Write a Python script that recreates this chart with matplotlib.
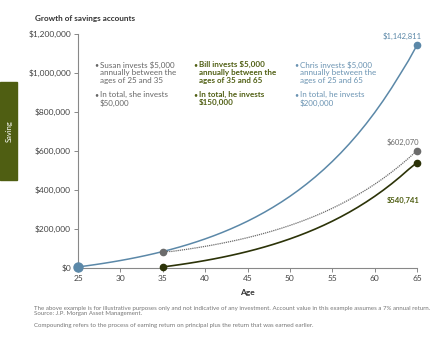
import matplotlib.pyplot as plt
import matplotlib.patches as patches
from matplotlib.ticker import FuncFormatter

plt.rcParams['font.family'] = ['Lato', 'DejaVu Sans']

# account value by age (7% annual return)
chris_age = list(range(25, 66))
chris_val = [5350, 11075, 17200, 23754, 30767, 38271, 46300, 54891, 64083, 73919,
             84443, 95704, 107753, 120646, 134441, 149202, 164996, 181896, 199979, 219328,
             240031, 262183, 285886, 311248, 338385, 367422, 398492, 431736, 467308, 505370,
             546096, 589673, 636300, 686191, 739574, 796694, 857813, 923210, 993185, 1064000,
             1142811]

susan_age = list(range(35, 66))
susan_val = [84443, 84630, 90554, 96893, 103675, 110932, 118697, 127006, 135896, 145409,
             155588, 166479, 178133, 190602, 203944, 218220, 233495, 249840, 267329, 286042,
             306065, 327490, 350414, 374943, 401189, 429272, 459321, 491474, 525877, 562688,
             602070]

bill_age = list(range(35, 66))
bill_val = [5350, 11075, 17200, 23754, 30767, 38271, 46300, 54891, 64083, 73919,
            84443, 95704, 107753, 120646, 134441, 149202, 164996, 181896, 199979, 219328,
            240031, 262183, 285886, 311248, 338385, 367422, 398492, 431736, 467308, 505370,
            540741]

x_ticks = [25, 30, 35, 40, 45, 50, 55, 60, 65]
y_ticks = [0, 200000, 400000, 600000, 800000, 1000000, 1200000]

blue = '#5b88a8'
grey = '#6b6b6b'
olive = '#2c3308'
olive_txt = '#4f5e12'
txt = '#444444'

fig = plt.figure(figsize=(4.32, 3.4), dpi=100)
ax = fig.add_axes([0.1806, 0.2118, 0.7847, 0.6882])

ax.plot(chris_age, chris_val, color=blue, linewidth=1.1, zorder=3)
ax.plot(susan_age, susan_val, color=grey, linewidth=0.9, linestyle=(0, (1, 0.7)), zorder=2)
ax.plot(bill_age, bill_val, color=olive, linewidth=1.2, zorder=3)

ax.plot(chris_age[0], chris_val[0], 'o', color=blue, markersize=6.5, zorder=5, clip_on=False)
ax.plot(chris_age[-1], chris_val[-1], 'o', color=blue, markersize=4.5, zorder=5, clip_on=False)
ax.plot([susan_age[0], susan_age[-1]], [susan_val[0], susan_val[-1]], 'o', color=grey,
        markersize=4.5, zorder=5, clip_on=False)
ax.plot([bill_age[0], bill_age[-1]], [bill_val[0], bill_val[-1]], 'o', color=olive,
        markersize=4.5, zorder=5, clip_on=False)

ax.set_xlim(25, 65)
ax.set_ylim(0, 1200000)
ax.set_xticks(x_ticks)
ax.set_yticks(y_ticks)
ax.yaxis.set_major_formatter(FuncFormatter(lambda v, p: '${:,.0f}'.format(v)))
for s in ['top', 'right']:
    ax.spines[s].set_visible(False)
for s in ['left', 'bottom']:
    ax.spines[s].set_color('#888888')
    ax.spines[s].set_linewidth(0.8)
ax.tick_params(colors='#888888', labelcolor=txt, labelsize=6, length=3, width=0.7, pad=2)
ax.set_xlabel('Age', fontsize=6, fontweight='bold', color='#333333', labelpad=5)

# value labels
ax.annotate('$1,142,811', (65, 1142811), xytext=(-10.8, 6.1), textcoords='offset points',
            ha='center', va='center', fontsize=5.5, color=blue)
ax.annotate('$602,070', (65, 602070), xytext=(-10, 6.2), textcoords='offset points',
            ha='center', va='center', fontsize=5.5, color=grey)
ax.annotate('$540,741', (65, 540741), xytext=(-9.9, -27.1), textcoords='offset points',
            ha='center', va='center', fontsize=5.5, color=olive_txt, fontweight='bold')

# text blocks
def block(x, lines1, lines2, color, weight='normal'):
    for y0, lines in [(61, lines1), (91, lines2)]:
        fig.text(x / 432, 1 - y0 / 340, '\u2022', fontsize=5, color=color, va='top')
        fig.text((x + 6) / 432, 1 - y0 / 340, '\n'.join(lines), fontsize=5.8, color=color,
                 va='top', linespacing=1.15, fontweight=weight)

block(94, ['Susan invests $5,000', 'annually between the', 'ages of 25 and 35'],
      ['In total, she invests', '$50,000'], '#666666')
block(193, ['Bill invests $5,000', 'annually between the', 'ages of 35 and 65'],
      ['In total, he invests', '$150,000'], olive_txt, 'bold')
block(294, ['Chris invests $5,000', 'annually between the', 'ages of 25 and 65'],
      ['In total, he invests', '$200,000'], '#6a93b2')

fig.text(35 / 432, 1 - 18 / 340, 'Growth of savings accounts', fontsize=5.9,
         fontweight='bold', color='#333333', va='center')

# side tab
fig.patches.append(patches.Rectangle((0, 1 - 180 / 340), 17 / 432, 98 / 340,
                                     transform=fig.transFigure, color='#4f5e12'))
fig.text(9 / 432, 1 - 131 / 340, 'Saving', rotation=90, color='white', fontsize=5.5,
         ha='center', va='center')

fig.text(34 / 432, 1 - 311 / 340,
         'The above example is for illustrative purposes only and not indicative of any investment. '
         'Account value in this example assumes a 7% annual return.\nSource: J.P. Morgan Asset Management.',
         fontsize=4.4, color='#777777', va='center', linespacing=1.0)
fig.text(34 / 432, 1 - 326 / 340,
         'Compounding refers to the process of earning return on principal plus the return that was earned earlier.',
         fontsize=4.4, color='#777777', va='center')

fig.savefig('out.png', dpi=100)
